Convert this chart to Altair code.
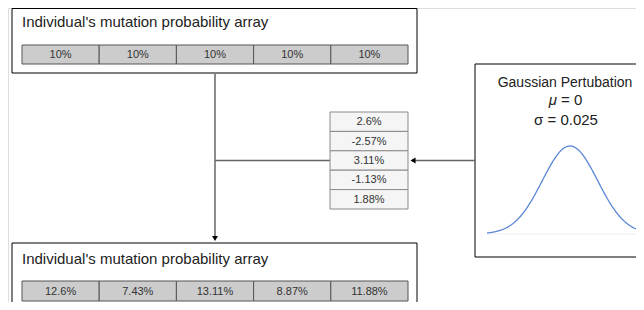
import altair as alt
import pandas as pd
import numpy as np

# ---- data ----
base_probs = [10, 10, 10, 10, 10]                 # % before mutation
perturbations = [2.6, -2.57, 3.11, -1.13, 1.88]  # % gaussian perturbation
result_probs = [12.6, 7.43, 13.11, 8.87, 11.88]   # % after mutation
mu = 0.0
sigma = 0.025
title_array = "Individual's mutation probability array"
title_gauss = "Gaussian Pertubation"

# ---- layout (pixel frame of the page) ----
FONT = "Liberation Sans"
W, H = 628, 294
XS = alt.Scale(domain=[8, 8 + W], nice=False, zero=False)
YS = alt.Scale(domain=[8 + H, 8], nice=False, zero=False)

def fmt(v):
    s = f"{v:.2f}".rstrip("0").rstrip(".")
    return s + "%"

def px(df, mark, props, **enc):
    e = {}
    for k, v in enc.items():
        if k == "x":
            e[k] = alt.X(v, type="quantitative", scale=XS, axis=None)
        elif k == "y":
            e[k] = alt.Y(v, type="quantitative", scale=YS, axis=None)
        elif k == "x2":
            e[k] = alt.X2(v)
        elif k == "y2":
            e[k] = alt.Y2(v)
        else:
            e[k] = v
    return getattr(alt.Chart(df), mark)(**props).encode(**e)

boxes = pd.DataFrame({
    "x": [12, 12, 475], "x2": [417, 417, 680],
    "y": [8.5, 243, 64], "y2": [73, 340, 257],
})
box_layer = px(boxes, "mark_rect", dict(fill="white", stroke="black", strokeWidth=1),
               x="x", x2="x2", y="y", y2="y2")

# array cells
cx0, cx1 = 22, 408
cw = (cx1 - cx0) / len(base_probs)
rows = []
for i, v in enumerate(base_probs):
    rows.append(dict(x=cx0 + i * cw, x2=cx0 + (i + 1) * cw, y=45, y2=64, t=fmt(v), cx=cx0 + (i + 0.5) * cw, cy=55))
for i, v in enumerate(result_probs):
    rows.append(dict(x=cx0 + i * cw, x2=cx0 + (i + 1) * cw, y=281, y2=301, t=fmt(v), cx=cx0 + (i + 0.5) * cw, cy=291.5))
cells = pd.DataFrame(rows)
cell_layer = px(cells, "mark_rect", dict(fill="#cccccc", stroke="#555555", strokeWidth=1),
                x="x", x2="x2", y="y", y2="y2")
cell_text = px(cells, "mark_text", dict(font=FONT, fontSize=11, color="#333333", baseline="middle"),
               x="cx", y="cy", text="t:N")

# perturbation column
py0, py1 = 112, 209
ph = (py1 - py0) / len(perturbations)
prow = []
for i, v in enumerate(perturbations):
    prow.append(dict(x=330, x2=408, y=py0 + i * ph, y2=py0 + (i + 1) * ph, t=fmt(v), cx=369, cy=py0 + (i + 0.5) * ph + 0.5))
pert = pd.DataFrame(prow)
pert_layer = px(pert, "mark_rect", dict(fill="#f5f5f5", stroke="#8a8a8a", strokeWidth=1),
                x="x", x2="x2", y="y", y2="y2")
pert_text = px(pert, "mark_text", dict(font=FONT, fontSize=11, color="#333333", baseline="middle"),
               x="cx", y="cy", text="t:N")

# connectors
conn = pd.DataFrame({
    "x": [215, 215, 412], "x2": [215, 330, 475],
    "y": [74, 160.5, 160.5], "y2": [238, 160.5, 160.5],
})
conn_layer = px(conn, "mark_rule", dict(color="#666666", strokeWidth=1.5),
                x="x", x2="x2", y="y", y2="y2")
heads = pd.DataFrame({"x": [215, 413], "y": [238.5, 160.5], "s": ["triangle-down", "triangle-left"]})
head_layer = px(heads, "mark_point", dict(filled=True, color="black", size=35, opacity=1),
                x="x", y="y", shape=alt.Shape("s:N", scale=None, legend=None))

# titles
titles = pd.DataFrame({
    "x": [22, 22],
    "y": [27, 264],
    "t": [title_array, title_array],
})
tl_left = px(titles, "mark_text", dict(font=FONT, fontSize=15, color="#222222", align="left", baseline="alphabetic"),
             x="x", y="y", text="t:N")
gtitle = px(pd.DataFrame({"x": [565], "y": [87], "t": [title_gauss]}), "mark_text",
            dict(font=FONT, fontSize=14, color="#222222", align="center", baseline="alphabetic"),
            x="x", y="y", text="t:N")
sig = px(pd.DataFrame({"x": [566], "y": [125], "t": [f"σ = {sigma:g}"]}), "mark_text",
         dict(font=FONT, fontSize=15, color="#222222", align="center", baseline="alphabetic"),
         x="x", y="y", text="t:N")
mu_sym = px(pd.DataFrame({"x": [557], "y": [105], "t": ["μ"]}), "mark_text",
            dict(font=FONT, fontSize=15, fontStyle="italic", color="#222222", align="right", baseline="alphabetic"),
            x="x", y="y", text="t:N")
mu_val = px(pd.DataFrame({"x": [561], "y": [105], "t": [f"= {mu:g}"]}), "mark_text",
            dict(font=FONT, fontSize=15, color="#222222", align="left", baseline="alphabetic"),
            x="x", y="y", text="t:N")

pixel_layers = alt.layer(box_layer, conn_layer, head_layer, cell_layer, cell_text,
                         pert_layer, pert_text, tl_left, gtitle, sig, mu_sym, mu_val)

# gaussian curve (pdf of N(mu, sigma)), placed by its own scales
gx = np.linspace(mu - 3 * sigma, mu + 3.3 * sigma, 200)
gy = np.exp(-0.5 * ((gx - mu) / sigma) ** 2) / (sigma * np.sqrt(2 * np.pi))
peak = 1 / (sigma * np.sqrt(2 * np.pi))
gdf = pd.DataFrame({"g": gx, "pdf": gy})
GX = alt.Scale(domain=[mu - 3 * sigma, mu + 3 * sigma], range=[487 - 8, 653 - 8], nice=False, zero=False)
GY = alt.Scale(domain=[0, peak], range=[234 - 8, 146 - 8], nice=False, zero=False)
base_line = alt.Chart(pd.DataFrame({"g": [gx[0]], "g2": [gx[-1]], "pdf": [0.0]})).mark_rule(
    color="#eeeeee", strokeWidth=1).encode(
    x=alt.X("g:Q", scale=GX, axis=None), x2="g2", y=alt.Y("pdf:Q", scale=GY, axis=None))
curve = alt.Chart(gdf).mark_line(color="#5b86d6", strokeWidth=1.3).encode(
    x=alt.X("g:Q", scale=GX, axis=None), y=alt.Y("pdf:Q", scale=GY, axis=None))
gauss = alt.layer(base_line, curve)

chart = alt.layer(pixel_layers, gauss).resolve_scale(x="independent", y="independent").properties(
    width=W, height=H, padding=0, autosize=alt.AutoSizeParams(type="none")
).configure_view(strokeWidth=0).configure(background="white")

chart.save("out.html", embed_options={"renderer": "svg", "actions": False})
